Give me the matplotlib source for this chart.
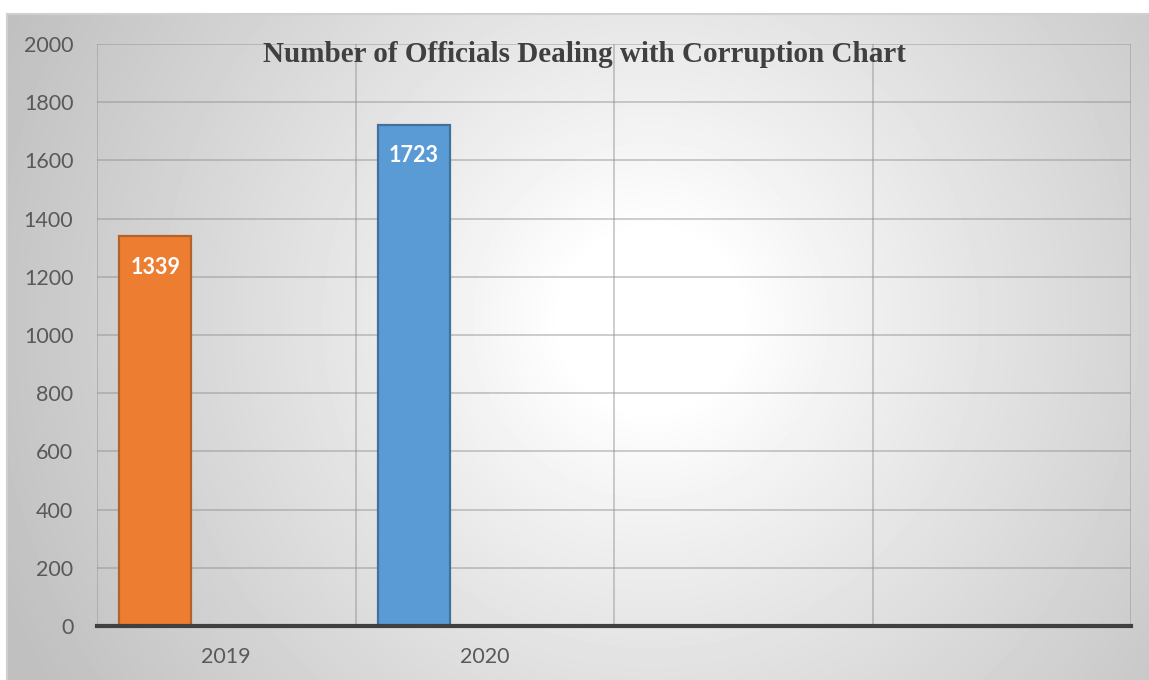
import matplotlib.pyplot as plt
import numpy as np

years = ['2019', '2020', '', '']
officials = [1339, 1723]
bar_colors = ['#ED7D31', '#5B9BD5']
edge_colors = ['#B5622A', '#41719C']
y_ticks = [0, 200, 400, 600, 800, 1000, 1200, 1400, 1600, 1800, 2000]

W, H = 1149, 680
fig = plt.figure(figsize=(W / 100, H / 100), dpi=100, facecolor='white')

# radial gradient background for the chart area
bg = fig.add_axes([7 / W, 0, 1 - 7 / W, (H - 14) / H])
bg.set_zorder(0)
gx, gy = np.meshgrid(np.arange(7, W), np.arange(14, H))
d = np.hypot(gx - 650, gy - 320)
v = 1 - 0.25 * np.clip((d - 90) / 620, 0, 1) ** 0.9
bg.imshow(v, cmap='gray', vmin=0, vmax=1, aspect='auto', interpolation='bilinear')
bg.set_xticks([])
bg.set_yticks([])
for side in ['right', 'bottom']:
    bg.spines[side].set_visible(False)
for side in ['top', 'left']:
    bg.spines[side].set_color('#d0d0d0')
    bg.spines[side].set_linewidth(1.5)

ax = fig.add_axes([97 / W, (H - 626) / H, (1131 - 97) / W, (626 - 44) / H])
ax.set_zorder(1)
ax.patch.set_alpha(0)

x = np.arange(len(years))
offset = -0.275
width = 0.279
for i, val in enumerate(officials):
    ax.bar(x[i] + offset, val, width, color=bar_colors[i], edgecolor=edge_colors[i],
           linewidth=1.6, zorder=3)
    ax.annotate(str(val), (x[i] + offset, val), xytext=(0, -31), textcoords='offset pixels',
                ha='center', va='center', color='white', fontsize=15.5, fontweight='bold',
                family='Lato', zorder=4)

ax.set_xlim(-0.5, len(years) - 0.5)
ax.set_ylim(0, 2000)
ax.set_yticks(y_ticks)
ax.set_xticks(x)
ax.set_xticklabels(years)
ax.set_xticks(np.arange(-0.5, len(years), 1), minor=True)
ax.grid(axis='y', which='major', color='#8c8c8c', alpha=0.5, linewidth=1.2, zorder=1)
ax.grid(axis='x', which='minor', color='#8c8c8c', alpha=0.5, linewidth=1.2, zorder=1)
ax.tick_params(axis='both', which='both', length=0, labelsize=15.5, labelcolor='#595959')
ax.tick_params(axis='x', pad=15)
ax.tick_params(axis='y', pad=17)
for lab in ax.get_xticklabels() + ax.get_yticklabels():
    lab.set_family('Lato')
for side in ['top', 'right', 'left']:
    ax.spines[side].set_visible(False)
ax.spines['bottom'].set_color('#404040')
ax.spines['bottom'].set_linewidth(3)
ax.spines['bottom'].set_zorder(5)

fig.text(584 / W, 1 - 55 / H, 'Number of Officials Dealing with Corruption Chart',
         ha='center', va='center', fontsize=21, fontweight='bold',
         family='Liberation Serif', color='#404040', zorder=6)

fig.savefig('out.png', dpi=100, facecolor='white')
